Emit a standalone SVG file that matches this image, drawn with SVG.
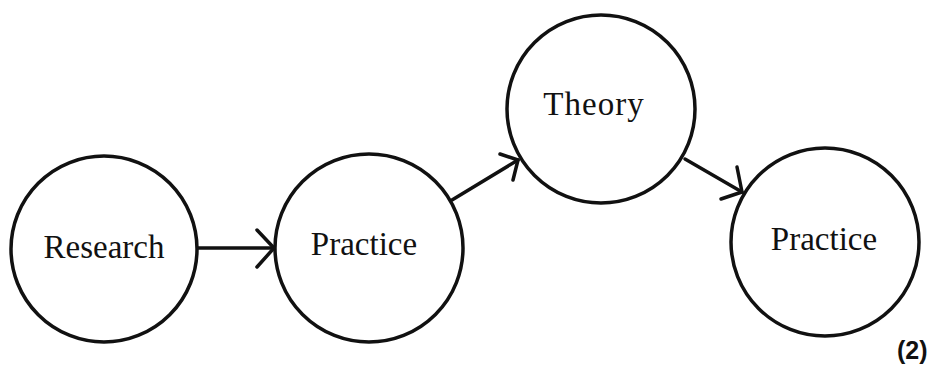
<svg xmlns="http://www.w3.org/2000/svg" width="931" height="365" viewBox="0 0 931 365">
  <style>
    .node circle { fill: #ffffff; stroke: #111111; stroke-width: 3.5; }
    .node text { font-family: "Liberation Serif", "DejaVu Serif", serif; font-size: 33px; fill: #111111; text-anchor: middle; }
    .conn path { fill: none; stroke: #111111; stroke-width: 3.5; stroke-linecap: round; stroke-linejoin: round; }
    .label { font-family: "Liberation Sans", "DejaVu Sans", sans-serif; font-weight: bold; font-size: 25px; fill: #111111; }
  </style>
  <rect width="931" height="365" fill="#ffffff"/>
  <g id="research" class="node">
    <circle cx="104" cy="249" r="93"/>
    <text x="104" y="258">Research</text>
  </g>
  <g id="practice1" class="node">
    <circle cx="369" cy="248" r="94"/>
    <text x="364" y="255">Practice</text>
  </g>
  <g id="theory" class="node">
    <circle cx="601" cy="109" r="94"/>
    <text x="594" y="115" letter-spacing="1">Theory</text>
  </g>
  <g id="practice2" class="node">
    <circle cx="825" cy="242" r="94"/>
    <text x="824" y="250">Practice</text>
  </g>
  <g id="connectors" class="conn">
    <path d="M198 248 L274 248"/>
    <path d="M257 230 L274 248 L257 267"/>
    <path d="M452 200 L518 160"/>
    <path d="M500 154 L518 160 L513 180"/>
    <path d="M685 159 L742 192"/>
    <path d="M737 167 L742 192 L721 199"/>
  </g>
  <text class="label" x="897" y="359">(2)</text>
</svg>
